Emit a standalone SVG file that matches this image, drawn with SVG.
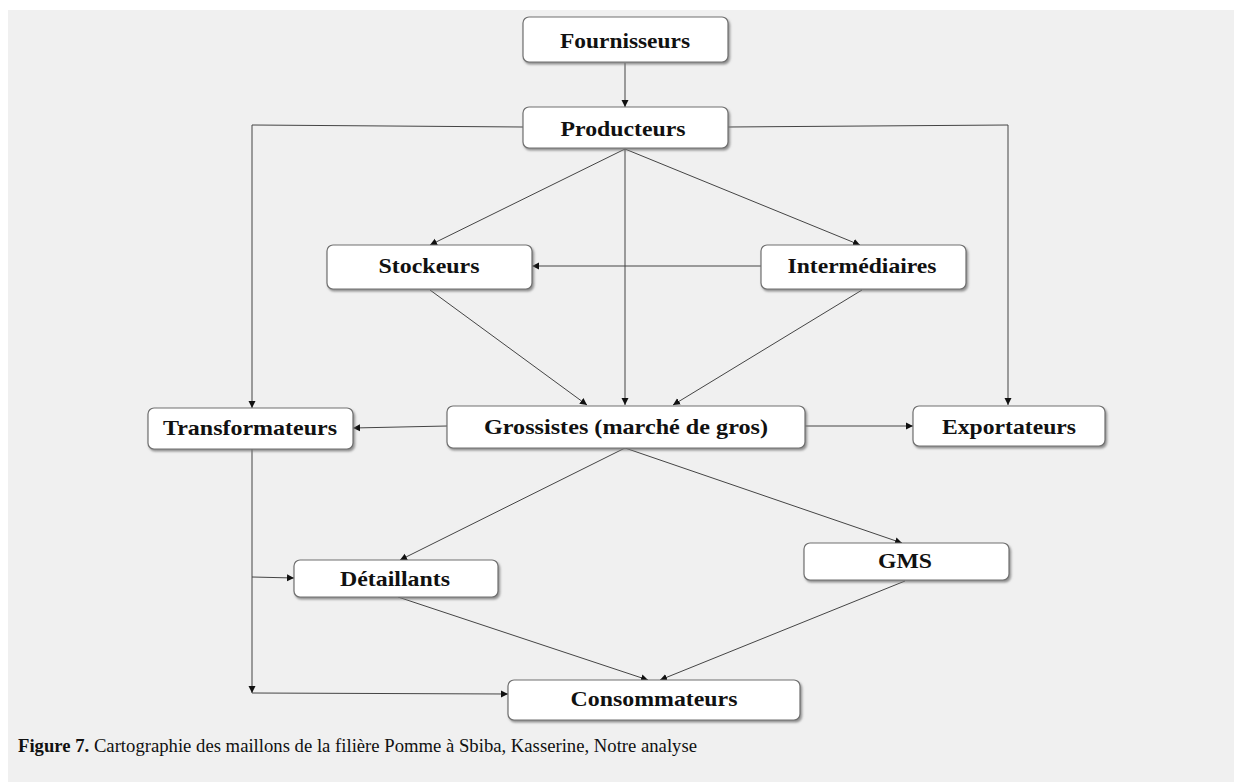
<svg xmlns="http://www.w3.org/2000/svg" width="1234" height="782" viewBox="0 0 1234 782">
<defs>
<marker id="ah" markerWidth="8" markerHeight="8" refX="7" refY="4" orient="auto" markerUnits="userSpaceOnUse">
<path d="M0,0.5 L7,4 L0,7.5 Z" fill="#111"/>
</marker>
<filter id="sh" x="-5%" y="-10%" width="115%" height="140%">
<feDropShadow dx="1.5" dy="2" stdDeviation="0.8" flood-color="#777" flood-opacity="0.8"/>
</filter>
</defs>
<style>
.box{fill:#fff;stroke:#707070;stroke-width:1.2;filter:url(#sh)}
.lbl{font-family:"Liberation Serif","Times New Roman",serif;font-weight:bold;font-size:21px;fill:#111;text-anchor:middle}
.c{stroke:#444;stroke-width:1;fill:none}
.a{marker-end:url(#ah)}
.cap{font-family:"Liberation Serif","Times New Roman",serif;font-size:19px;fill:#111}
</style>
<rect x="0" y="0" width="1234" height="782" fill="#fff"/>
<rect x="8" y="10" width="1226" height="772" fill="#f0f0f0"/>

<g id="connectors">
<line class="c a" x1="625" y1="63" x2="625" y2="107"/>
<polyline class="c a" points="523,127 252,125 252,408"/>
<polyline class="c a" points="728,127 1008,125 1008,405"/>
<line class="c a" x1="625" y1="149" x2="430" y2="245"/>
<line class="c a" x1="625" y1="149" x2="860" y2="245"/>
<line class="c a" x1="625" y1="149" x2="625" y2="405"/>
<line class="c a" x1="762" y1="266" x2="532" y2="266"/>
<line class="c a" x1="430" y1="290" x2="587" y2="405"/>
<line class="c a" x1="862" y1="290" x2="673" y2="405"/>
<line class="c a" x1="447" y1="426" x2="353" y2="428"/>
<line class="c a" x1="805" y1="426" x2="913" y2="426"/>
<line class="c a" x1="625" y1="448" x2="400" y2="560"/>
<line class="c a" x1="625" y1="448" x2="902" y2="543"/>
<line class="c a" x1="252" y1="449" x2="252" y2="693"/>
<line class="c a" x1="252" y1="577" x2="294" y2="578"/>
<line class="c a" x1="252" y1="693" x2="508" y2="694"/>
<line class="c a" x1="398" y1="597" x2="648" y2="680"/>
<line class="c a" x1="905" y1="581" x2="660" y2="680"/>
</g>

<g id="n-fournisseurs"><rect class="box" x="523" y="17" width="205" height="45" rx="6"/><text class="lbl" x="625" y="48" textLength="130" lengthAdjust="spacingAndGlyphs">Fournisseurs</text></g>
<g id="n-producteurs"><rect class="box" x="523" y="107" width="205" height="41" rx="6"/><text class="lbl" x="623" y="136" textLength="125" lengthAdjust="spacingAndGlyphs">Producteurs</text></g>
<g id="n-stockeurs"><rect class="box" x="327" y="245" width="205" height="44" rx="6"/><text class="lbl" x="429" y="273" textLength="101" lengthAdjust="spacingAndGlyphs">Stockeurs</text></g>
<g id="n-intermediaires"><rect class="box" x="761" y="245" width="205" height="44" rx="6"/><text class="lbl" x="862" y="273" textLength="149" lengthAdjust="spacingAndGlyphs">Intermédiaires</text></g>
<g id="n-transformateurs"><rect class="box" x="148" y="408" width="205" height="41" rx="6"/><text class="lbl" x="250" y="435" textLength="174" lengthAdjust="spacingAndGlyphs">Transformateurs</text></g>
<g id="n-grossistes"><rect class="box" x="447" y="406" width="358" height="42" rx="6"/><text class="lbl" x="626" y="434" textLength="284" lengthAdjust="spacingAndGlyphs">Grossistes (marché de gros)</text></g>
<g id="n-exportateurs"><rect class="box" x="913" y="406" width="192" height="40" rx="6"/><text class="lbl" x="1009" y="434" textLength="134" lengthAdjust="spacingAndGlyphs">Exportateurs</text></g>
<g id="n-detaillants"><rect class="box" x="294" y="560" width="204" height="37" rx="6"/><text class="lbl" x="395" y="586" textLength="110" lengthAdjust="spacingAndGlyphs">Détaillants</text></g>
<g id="n-gms"><rect class="box" x="804" y="543" width="205" height="37" rx="6"/><text class="lbl" x="905" y="568" textLength="54" lengthAdjust="spacingAndGlyphs">GMS</text></g>
<g id="n-consommateurs"><rect class="box" x="508" y="680" width="292" height="40" rx="6"/><text class="lbl" x="654" y="706" textLength="167" lengthAdjust="spacingAndGlyphs">Consommateurs</text></g>

<text class="cap" x="18" y="752" textLength="679" lengthAdjust="spacingAndGlyphs"><tspan font-weight="bold">Figure 7.</tspan> Cartographie des maillons de la filière Pomme à Sbiba, Kasserine, Notre analyse</text>
</svg>
